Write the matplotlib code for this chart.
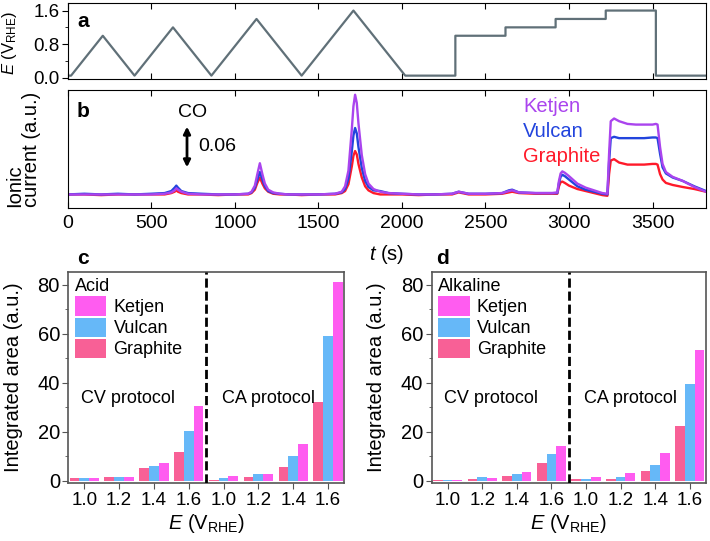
import matplotlib
matplotlib.use("Agg")
import matplotlib.pyplot as plt
from matplotlib.ticker import MultipleLocator

plt.rcParams['font.family'] = ['Liberation Sans', 'DejaVu Sans']
plt.rcParams['mathtext.fontset'] = 'custom'
plt.rcParams['mathtext.rm'] = 'Liberation Sans'
plt.rcParams['mathtext.it'] = 'Liberation Sans:italic'
plt.rcParams['mathtext.bf'] = 'Liberation Sans:bold'

# ---------------- Data ----------------
# Panel a: potential program (time s, potential V_RHE)
pot_t = [0, 20, 210, 400, 630, 860, 1130, 1400, 1710, 2020,
         2320, 2320, 2620, 2620, 2920, 2920, 3220, 3220, 3520, 3520, 3820]
pot_E = [0.05, 0.05, 1.0, 0.05, 1.2, 0.05, 1.4, 0.05, 1.6, 0.05,
         0.05, 1.0, 1.0, 1.2, 1.2, 1.4, 1.4, 1.6, 1.6, 0.05, 0.05]

# Panel b: ionic current traces (a.u.)
ion_t = [0, 100, 200, 300, 400, 500, 580, 620, 640, 650, 660, 680, 720, 800,
         900, 1000, 1080, 1100, 1120, 1135, 1150, 1165, 1180, 1200, 1230, 1270,
         1320, 1400, 1500, 1600, 1640, 1660, 1680, 1700, 1710, 1720, 1730, 1740,
         1760, 1780, 1800, 1830, 1870, 1920, 2000, 2100, 2200, 2300, 2340, 2360,
         2400, 2500, 2600, 2640, 2660, 2700, 2800, 2900, 2930, 2940, 2950, 2960,
         2975, 3000, 3050, 3100, 3150, 3200, 3230, 3240, 3250, 3270, 3300, 3350,
         3400, 3450, 3500, 3520, 3530, 3545, 3560, 3580, 3620, 3680, 3750, 3820]
ketjen_i = [0.0, 0.0, 0.0, 0.0, 0.0, 0.0, 0.001, 0.003, 0.006, 0.009, 0.007, 0.004, 0.001, 0.0,
            0.0, 0.0, 0.001, 0.004, 0.013, 0.030, 0.046, 0.030, 0.016, 0.007, 0.003, 0.001,
            0.0, 0.0, 0.0, 0.001, 0.004, 0.012, 0.035, 0.095, 0.130, 0.147, 0.135, 0.105,
            0.058, 0.030, 0.016, 0.008, 0.004, 0.002, 0.001, 0.0, 0.0, 0.001, 0.004, 0.003,
            0.001, 0.001, 0.002, 0.005, 0.006, 0.003, 0.002, 0.002, 0.003, 0.020, 0.031, 0.034,
            0.032, 0.027, 0.016, 0.010, 0.006, 0.002, 0.001, 0.060, 0.108, 0.112, 0.108, 0.104,
            0.103, 0.103, 0.103, 0.104, 0.103, 0.070, 0.045, 0.033, 0.026, 0.020, 0.011, 0.004]
vulcan_i = [0.0, 0.001, 0.0, 0.001, 0.0, 0.001, 0.002, 0.005, 0.010, 0.013, 0.010, 0.005, 0.002, 0.001,
            0.0, 0.0, 0.001, 0.003, 0.010, 0.022, 0.033, 0.022, 0.012, 0.005, 0.002, 0.001,
            0.0, 0.0, 0.0, 0.001, 0.003, 0.008, 0.023, 0.063, 0.087, 0.098, 0.090, 0.070,
            0.039, 0.020, 0.011, 0.006, 0.005, 0.002, 0.001, 0.0, 0.0, 0.001, 0.004, 0.003,
            0.001, 0.001, 0.002, 0.006, 0.007, 0.003, 0.002, 0.002, 0.002, 0.017, 0.026, 0.029,
            0.027, 0.022, 0.012, 0.007, 0.004, 0.001, 0.0, 0.048, 0.083, 0.085, 0.083, 0.083,
            0.083, 0.083, 0.084, 0.084, 0.083, 0.060, 0.040, 0.031, 0.025, 0.020, 0.012, 0.005]
graphite_i = [0.0, 0.0, -0.001, 0.0, 0.0, 0.0, 0.0, 0.002, 0.004, 0.006, 0.004, 0.002, 0.0, 0.0,
              -0.001, 0.0, 0.0, 0.002, 0.007, 0.017, 0.025, 0.016, 0.009, 0.004, 0.001, 0.0,
              0.0, -0.001, 0.0, 0.0, 0.002, 0.005, 0.015, 0.041, 0.057, 0.064, 0.059, 0.045,
              0.025, 0.012, 0.006, 0.002, 0.0, 0.0, 0.0, -0.001, 0.0, 0.0, 0.003, 0.002,
              0.0, 0.0, 0.001, 0.003, 0.004, 0.002, 0.001, 0.001, 0.001, 0.012, 0.018, 0.019,
              0.017, 0.013, 0.008, 0.005, 0.002, -0.001, -0.002, 0.030, 0.050, 0.052, 0.047, 0.044,
              0.044, 0.044, 0.045, 0.045, 0.044, 0.030, 0.022, 0.017, 0.014, 0.011, 0.008, 0.004]

# Panels c, d: integrated areas
e_labels = ['1.0', '1.2', '1.4', '1.6', '1.0', '1.2', '1.4', '1.6']
acid_graphite = [1.2, 1.5, 5.3, 11.7, 0.5, 1.4, 5.7, 32.2]
acid_vulcan   = [1.2, 1.6, 6.1, 20.2, 1.2, 2.7, 10.2, 59.1]
acid_ketjen   = [1.2, 1.5, 7.4, 30.5, 2.0, 2.9, 15.0, 81.1]
alk_graphite  = [0.4, 0.7, 2.0, 7.1, 0.7, 0.7, 3.8, 22.4]
alk_vulcan    = [0.4, 1.5, 2.9, 10.9, 0.8, 1.4, 6.5, 39.4]
alk_ketjen    = [0.4, 1.0, 3.7, 14.3, 1.4, 3.1, 11.4, 53.6]

# ---------------- Figure ----------------
W, H = 710, 541
fig = plt.figure(figsize=(W / 100, H / 100), dpi=100)

def box(l, t, r, b):
    return [l / W, 1 - b / H, (r - l) / W, (b - t) / H]

TS = 13.5     # tick labels
LS = 14.5     # axis labels
LINEC = '#607078'

# ---- Panel a ----
axA = fig.add_axes(box(67.7, 3, 706, 79))
axA.plot(pot_t, pot_E, color=LINEC, lw=1.6)
axA.set_xlim(0, 3820)
axA.set_ylim(-0.03, 1.78)
axA.set_yticks([0.0, 0.8, 1.6])
axA.set_yticklabels(['0.0', '0.8', '1.6'])
axA.yaxis.set_minor_locator(MultipleLocator(0.4))
axA.set_xticks([0, 500, 1000, 1500, 2000, 2500, 3000, 3500])
axA.tick_params(axis='x', direction='in', top=True, bottom=True, labelbottom=False, length=4)
axA.tick_params(axis='y', which='major', direction='out', length=4, labelsize=TS, pad=2)
axA.tick_params(axis='y', which='minor', direction='out', length=2.5)
axA.set_ylabel(r'$E$ (V$_{\mathrm{RHE}}$)', fontsize=12)
axA.yaxis.set_label_coords(-0.076, 0.47)
fig.text(77 / W, 1 - 27 / H, 'a', fontsize=15, fontweight='bold', va='baseline', ha='left')

# ---- Panel b ----
axB = fig.add_axes(box(67.7, 90, 706, 208))
axB.plot(ion_t, graphite_i, color='#ff1a2a', lw=1.7)
axB.plot(ion_t, vulcan_i, color='#2244dd', lw=1.7)
axB.plot(ion_t, ketjen_i, color='#aa44ee', lw=1.7)
axB.set_xlim(0, 3820)
axB.set_ylim(-0.02, 0.154)
axB.set_yticks([])
axB.set_xticks([0, 500, 1000, 1500, 2000, 2500, 3000, 3500])
axB.tick_params(axis='x', direction='in', top=True, bottom=True, length=4, labelsize=14, pad=5)
axB.set_ylabel('Ionic\ncurrent (a.u.)', fontsize=LS, multialignment='left', linespacing=0.88)
axB.yaxis.set_label_coords(-0.042, 0.5)
fig.text(77 / W, 1 - 117 / H, 'b', fontsize=15, fontweight='bold', va='baseline', ha='left')
axB.annotate('', xy=(714, 0.040), xytext=(714, 0.100),
             arrowprops=dict(arrowstyle='<|-|>', color='black', lw=2, mutation_scale=10,
                             shrinkA=0, shrinkB=0))
axB.text(750, 0.121, 'CO', fontsize=14, ha='center', va='center')
axB.text(780, 0.070, '0.06', fontsize=14, ha='left', va='center')
axB.text(2726, 0.129, 'Ketjen', color='#aa44ee', fontsize=14.5, ha='left', va='center')
axB.text(2726, 0.0925, 'Vulcan', color='#2244dd', fontsize=14.5, ha='left', va='center')
axB.text(2726, 0.0566, 'Graphite', color='#ff1a2a', fontsize=14.5, ha='left', va='center')
fig.text(386.5 / W, 1 - 255 / H, r'$t$ (s)', fontsize=LS, ha='center', va='center')

# ---- Panels c, d ----
KC = '#ff5cf0'
VC = '#66b8f8'
GC = '#f86096'
FRAME = '#555555'

def bar_panel(ax, g, v, k, title, letter, letter_x, ylab_x):
    pos = list(range(len(e_labels)))
    w = 0.28
    ax.bar([p - w for p in pos], g, width=w, color=GC, label='Graphite', zorder=2)
    ax.bar(pos, v, width=w, color=VC, label='Vulcan', zorder=2)
    ax.bar([p + w for p in pos], k, width=w, color=KC, label='Ketjen', zorder=2)
    ax.set_xlim(-0.46, 7.47)
    ax.set_ylim(-0.8, 85.4)
    ax.set_xticks(pos)
    ax.set_xticklabels(e_labels)
    ax.set_yticks([0, 20, 40, 60, 80])
    ax.yaxis.set_minor_locator(MultipleLocator(10))
    ax.tick_params(axis='x', which='major', direction='out', length=4, labelsize=13.5,
                   color=FRAME, pad=3)
    ax.tick_params(axis='y', which='major', direction='out', length=4, labelsize=14.5,
                   color=FRAME, pad=2)
    ax.tick_params(axis='y', which='minor', direction='out', length=2.5, color=FRAME)
    for s in ax.spines.values():
        s.set_color(FRAME)
        s.set_linewidth(1.2)
    ax.axvline(3.5, color='black', lw=2, ls=(0, (3.3, 1.4)), zorder=3)
    ax.text(1.26, 33.8, 'CV protocol', fontsize=13, ha='center', va='center')
    ax.text(5.28, 33.8, 'CA protocol', fontsize=13, ha='center', va='center')
    ax.set_ylabel('Integrated area (a.u.)', fontsize=LS)
    ax.yaxis.set_label_coords(ylab_x, 0.5)
    ax.set_xlabel(r'$E$ (V$_{\mathrm{RHE}}$)', fontsize=LS, labelpad=2)
    handles, labels = ax.get_legend_handles_labels()
    order = [2, 1, 0]
    ax.legend([handles[i] for i in order], [labels[i] for i in order],
              title=title, loc='upper left', bbox_to_anchor=(0.0, 1.0),
              frameon=False, fontsize=13, title_fontsize=13,
              handlelength=1.75, handleheight=1.25, handletextpad=0.4,
              labelspacing=0.08, borderpad=0.25, borderaxespad=0.1,
              alignment='left')
    fig.text(letter_x / W, 1 - 264 / H, letter, fontsize=15, fontweight='bold',
             va='baseline', ha='left')

axC = fig.add_axes(box(68.3, 271.7, 344.3, 482.7))
bar_panel(axC, acid_graphite, acid_vulcan, acid_ketjen, 'Acid', 'c', 77, -0.165)
axD = fig.add_axes(box(431.7, 271.7, 706, 482.7))
bar_panel(axD, alk_graphite, alk_vulcan, alk_ketjen, 'Alkaline', 'd', 436, -0.168)

fig.savefig('out.png', dpi=100)
